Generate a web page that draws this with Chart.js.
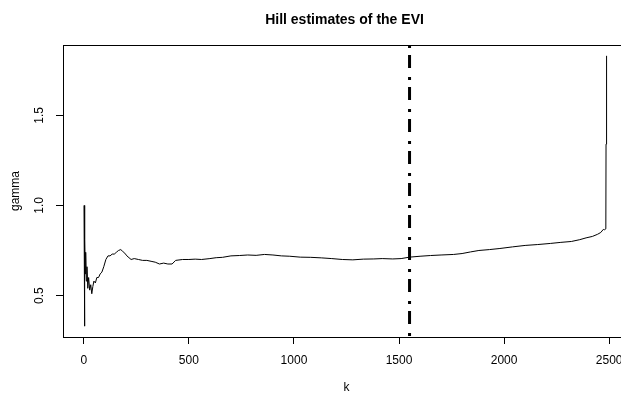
<!DOCTYPE html>
<html>
<head>
<meta charset="utf-8">
<script src="https://cdn.jsdelivr.net/npm/chart.js@4.4.1/dist/chart.umd.min.js"></script>
<style>
  html, body { margin: 0; padding: 0; background: #fff; overflow: hidden; }
  canvas { display: block; }
</style>
</head>
<body>
<canvas id="mycanvas" width="684" height="395"></canvas>
<script>
// Hill estimates
var kValues = [1, 3, 5, 7, 9, 12, 15, 19, 23, 28, 33, 38, 43, 48, 55, 62, 70, 78, 86, 95,
  105, 115, 125, 135, 145, 155, 165, 176, 185, 195, 205, 215, 225, 240, 260, 280, 300, 320,
  340, 360, 380, 400, 420, 437, 470, 500, 530, 560, 600, 630, 660, 700, 740, 780, 820, 860,
  900, 940, 980, 1030, 1080, 1130, 1180, 1230, 1280, 1330, 1380, 1420, 1470, 1510, 1550,
  1600, 1650, 1700, 1760, 1800, 1840, 1880, 1930, 1980, 2040, 2100, 2160, 2220, 2270, 2320,
  2360, 2390, 2420, 2445, 2460, 2472, 2478, 2484, 2485, 2487, 2488];
var gammaValues = [1.00, 0.33, 0.81, 0.62, 0.74, 0.58, 0.66, 0.54, 0.60, 0.53, 0.56, 0.51,
  0.55, 0.58, 0.57, 0.60, 0.60, 0.62, 0.63, 0.66, 0.70, 0.72, 0.72, 0.73, 0.73, 0.74, 0.75,
  0.755, 0.745, 0.735, 0.72, 0.71, 0.70, 0.705, 0.70, 0.695, 0.695, 0.69, 0.685, 0.675, 0.68,
  0.675, 0.675, 0.695, 0.70, 0.70, 0.702, 0.70, 0.705, 0.71, 0.712, 0.72, 0.722, 0.725, 0.723,
  0.728, 0.725, 0.72, 0.718, 0.713, 0.712, 0.709, 0.705, 0.70, 0.698, 0.702, 0.703, 0.705,
  0.703, 0.705, 0.713, 0.718, 0.722, 0.725, 0.728, 0.733, 0.742, 0.75, 0.755, 0.761, 0.77,
  0.778, 0.783, 0.789, 0.795, 0.80, 0.81, 0.82, 0.828, 0.84, 0.85, 0.867, 0.865, 0.87, 1.34,
  1.34, 1.83];
var chosenK = 1550;
var xTicks = [0, 500, 1000, 1500, 2000, 2500];
var yTicks = [0.5, 1.0, 1.5];
var mainTitle = 'Hill estimates of the EVI';

var xMin = -99, xMax = 2599;
var yMin = 0.27, yMax = 1.89;

var points = [];
for (var i in kValues) {
  points.push({x: kValues[i], y: gammaValues[i]});
}

var font = "'Liberation Sans', Arial, sans-serif";

// R-style box round the plot region, title centred over it
var boxPlugin = {
  id: 'box',
  afterDraw: function(chart) {
    var a = chart.chartArea;
    var c = chart.ctx;
    c.save();
    c.strokeStyle = '#000';
    c.lineWidth = 1;
    c.strokeRect(Math.round(a.left) + 0.5, Math.round(a.top) + 0.5,
      Math.round(a.right - a.left), Math.round(a.bottom - a.top));
    c.fillStyle = '#000';
    c.font = 'bold 14px ' + font;
    c.textAlign = 'center';
    c.textBaseline = 'middle';
    c.fillText(mainTitle, (a.left + a.right) / 2 - 2, 20);
    c.restore();
  }
};

var ctx = document.getElementById('mycanvas');
var LineGraph = new Chart(ctx, {
  type: 'line',
  data: {
    datasets: [
      {
        label: 'gamma',
        data: points,
        borderColor: '#000',
        borderWidth: 1,
        pointRadius: 0,
        tension: 0,
        fill: false
      },
      {
        label: 'k',
        data: [{x: chosenK, y: yMax}, {x: chosenK, y: yMin}],
        borderColor: '#000',
        borderWidth: 3,
        borderDash: [3, 7, 13, 9],
        borderCapStyle: 'butt',
        pointRadius: 0,
        fill: false
      }
    ]
  },
  options: {
    responsive: false,
    animation: false,
    events: [],
    layout: { padding: { left: 0, right: 54, top: 45, bottom: 0 } },
    plugins: {
      legend: { display: false },
      tooltip: { enabled: false },
      title: { display: false }
    },
    scales: {
      x: {
        type: 'linear',
        min: xMin,
        max: xMax,
        afterBuildTicks: function(scale) {
          scale.ticks = xTicks.map(function(v) { return {value: v}; });
        },
        afterFit: function(scale) { scale.height = 58; },
        grid: { drawOnChartArea: false, drawTicks: true, tickLength: 7, color: '#000' },
        border: { display: true, color: '#000' },
        ticks: {
          color: '#000',
          font: { family: font, size: 12 },
          padding: 9,
          maxRotation: 0,
          callback: function(v) { return String(v); }
        },
        title: {
          display: true,
          text: 'k',
          color: '#000',
          font: { family: font, size: 12 },
          padding: { top: 4, bottom: 0 }
        }
      },
      y: {
        type: 'linear',
        min: yMin,
        max: yMax,
        afterBuildTicks: function(scale) {
          scale.ticks = yTicks.map(function(v) { return {value: v}; });
        },
        afterFit: function(scale) { scale.width = 63; },
        grid: { drawOnChartArea: false, drawTicks: true, tickLength: 7, color: '#000' },
        border: { display: true, color: '#000' },
        ticks: {
          color: '#000',
          font: { family: font, size: 12 },
          padding: 8,
          minRotation: 90,
          maxRotation: 90,
          crossAlign: 'center',
          callback: function(v) { return v.toFixed(1); }
        },
        title: {
          display: true,
          text: 'gamma',
          color: '#000',
          font: { family: font, size: 12 },
          padding: { top: 8, bottom: 0 }
        }
      }
    }
  },
  plugins: [boxPlugin]
});
</script>
</body>
</html>
